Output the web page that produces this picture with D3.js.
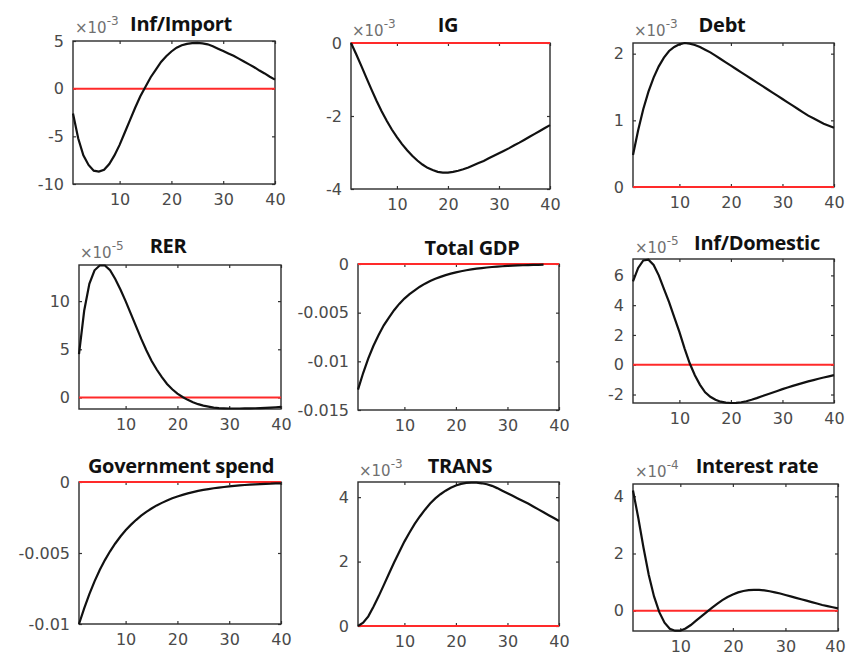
<!DOCTYPE html>
<html>
<head>
<meta charset="utf-8">
<script src="https://cdnjs.cloudflare.com/ajax/libs/d3/7.8.5/d3.min.js"></script>
<style>
  body { margin: 0; background: #fff; }
  svg { display: block; }
  .tick text { font-family: "DejaVu Sans", sans-serif; font-size: 16px; fill: #4a4a4a; }
</style>
</head>
<body>
<script>
// impulse responses, periods 1..40
var periods = d3.range(1, 41);
var xTicks = [10, 20, 30, 40];

var titles = ['Inf/Import', 'IG', 'Debt', 'RER', 'Total GDP', 'Inf/Domestic', 'Government spend', 'TRANS', 'Interest rate'];
var exponents = [-3, -3, -3, -5, null, -5, null, -3, -4];

// values in units of the panel exponent (x10^-3 etc.)
var infImport = [-2.6, -5.2, -7.0, -8.0, -8.6, -8.7, -8.5, -7.9, -7.0, -5.9, -4.6, -3.3, -2.0, -0.8, 0.2, 1.2, 2.0, 2.8, 3.4, 3.9,
  4.3, 4.55, 4.7, 4.78, 4.8, 4.75, 4.65, 4.45, 4.2, 3.95, 3.7, 3.45, 3.15, 2.85, 2.55, 2.25, 1.9, 1.6, 1.25, 0.95];
var ig = [0, -0.3, -0.62, -0.95, -1.27, -1.58, -1.87, -2.13, -2.37, -2.58, -2.77, -2.94, -3.09, -3.22, -3.33, -3.42, -3.48, -3.53, -3.55, -3.55,
  -3.53, -3.5, -3.46, -3.41, -3.35, -3.29, -3.23, -3.16, -3.09, -3.02, -2.95, -2.88, -2.8, -2.73, -2.65, -2.57, -2.49, -2.41, -2.33, -2.25];
var debt = [0.48, 0.85, 1.17, 1.43, 1.64, 1.81, 1.94, 2.04, 2.1, 2.14, 2.16, 2.15, 2.13, 2.1, 2.06, 2.02, 1.97, 1.92, 1.87, 1.82,
  1.77, 1.72, 1.67, 1.62, 1.57, 1.52, 1.47, 1.42, 1.37, 1.32, 1.27, 1.22, 1.17, 1.12, 1.07, 1.03, 0.99, 0.95, 0.92, 0.89];
var rer = [4.5, 9.0, 11.8, 13.2, 13.7, 13.7, 13.2, 12.3, 11.2, 10.0, 8.7, 7.4, 6.1, 4.9, 3.8, 2.9, 2.1, 1.4, 0.85, 0.4,
  0.05, -0.25, -0.5, -0.7, -0.85, -0.95, -1.05, -1.1, -1.13, -1.15, -1.15, -1.15, -1.14, -1.13, -1.12, -1.1, -1.08, -1.05, -1.02, -0.98];
var totalGdp = [-0.0129, -0.0112, -0.0097, -0.0084, -0.0073, -0.0063, -0.0055, -0.00475, -0.0041, -0.00355, -0.0031, -0.0027, -0.00233,
  -0.00202, -0.00175, -0.00152, -0.00132, -0.00114, -0.00099, -0.00086, -0.00074, -0.00064, -0.00056, -0.00048, -0.00042, -0.00036,
  -0.00031, -0.00027, -0.00023, -0.0002, -0.00017, -0.00015, -0.00013, -0.00011, -0.0001, -0.00008, -0.00007];
var infDomestic = [5.6, 6.5, 7.0, 7.05, 6.7, 6.0, 5.1, 4.2, 3.2, 2.2, 1.1, 0.1, -0.7, -1.35, -1.85, -2.15, -2.35, -2.48, -2.55, -2.57,
  -2.56, -2.52, -2.45, -2.35, -2.24, -2.12, -2.0, -1.88, -1.76, -1.64, -1.53, -1.42, -1.32, -1.22, -1.12, -1.03, -0.94, -0.86, -0.78, -0.7];
var govSpend = [-0.01, -0.0089, -0.0079, -0.007, -0.0062, -0.0055, -0.00488, -0.00433, -0.00384, -0.0034, -0.00302, -0.00268, -0.00237,
  -0.0021, -0.00187, -0.00165, -0.00147, -0.0013, -0.00115, -0.00102, -0.00091, -0.0008, -0.00071, -0.00063, -0.00056, -0.0005,
  -0.00044, -0.00039, -0.00035, -0.00031, -0.00027, -0.00024, -0.00021, -0.00019, -0.00017, -0.00015, -0.00013, -0.00012, -0.0001, -0.00009];
var trans = [0, 0.1, 0.3, 0.6, 0.92, 1.27, 1.62, 1.97, 2.3, 2.62, 2.9, 3.17, 3.4, 3.61, 3.8, 3.96, 4.09, 4.2, 4.29, 4.36,
  4.41, 4.44, 4.45, 4.45, 4.43, 4.4, 4.35, 4.28, 4.2, 4.12, 4.04, 3.96, 3.88, 3.8, 3.71, 3.62, 3.53, 3.44, 3.35, 3.26];
var interestRate = [4.2, 3.25, 2.2, 1.25, 0.5, -0.05, -0.42, -0.63, -0.7, -0.7, -0.62, -0.5, -0.35, -0.2, -0.05, 0.1, 0.24, 0.37, 0.48, 0.57,
  0.64, 0.69, 0.72, 0.73, 0.73, 0.71, 0.68, 0.64, 0.6, 0.55, 0.5, 0.45, 0.4, 0.35, 0.3, 0.25, 0.2, 0.16, 0.12, 0.08];

var series = [infImport, ig, debt, rer, totalGdp, infDomestic, govSpend, trans, interestRate];
var yTicks = [[-10, -5, 0, 5], [-4, -2, 0], [0, 1, 2], [0, 5, 10], [-0.015, -0.01, -0.005, 0], [-2, 0, 2, 4, 6], [-0.01, -0.005, 0], [0, 2, 4], [0, 2, 4]];
var yLimits = [[-10, 5], [-4, 0], [0, 2.16], [-1.2, 13.75], [-0.015, 0], [-2.57, 7.1], [-0.01, 0], [0, 4.47], [-0.71, 4.43]];

// layout: axes boxes, title anchor, exponent anchor
var boxes = [
  {x: 73, y: 41, w: 202, h: 143}, {x: 351, y: 43, w: 199, h: 146}, {x: 633, y: 43, w: 201, h: 144},
  {x: 79, y: 265, w: 202, h: 144}, {x: 358, y: 264, w: 201, h: 146}, {x: 633, y: 259, w: 201, h: 144},
  {x: 79, y: 482, w: 202, h: 142}, {x: 358, y: 482, w: 201, h: 144}, {x: 633, y: 484, w: 205, h: 147}
];
var titlePos = [[181, 31], [448, 32], [722, 32], [168, 253], [472, 255], [757, 250], [181, 473], [460, 473], [757, 473]];
var expPos = [[75, 33], [352, 36], [634, 36], [80, 258], null, [635, 253], null, [359, 476], [635, 477]];

var svg = d3.select('body').append('svg').attr('width', 847).attr('height', 655);

function fmt(d) { return String(d); }

boxes.forEach(function(b, i) {
  var x = d3.scaleLinear().domain([1, 40]).range([b.x, b.x + b.w]);
  var y = d3.scaleLinear().domain(yLimits[i]).range([b.y + b.h, b.y]);
  var g = svg.append('g');

  var ax = [
    d3.axisBottom(x).tickValues(xTicks).tickSize(-3).tickPadding(10).tickFormat(fmt),
    d3.axisTop(x).tickValues(xTicks).tickSize(-3).tickFormat(''),
    d3.axisLeft(y).tickValues(yTicks[i]).tickSize(-3).tickPadding(9).tickFormat(fmt),
    d3.axisRight(y).tickValues(yTicks[i]).tickSize(-3).tickFormat('')
  ];
  var tr = ['translate(0,' + (b.y + b.h) + ')', 'translate(0,' + b.y + ')', 'translate(' + b.x + ',0)', 'translate(' + (b.x + b.w) + ',0)'];
  ax.forEach(function(a, k) {
    var ga = g.append('g').attr('transform', tr[k]).call(a);
    ga.select('.domain').remove();
    ga.selectAll('.tick line').attr('stroke', '#333').attr('stroke-width', 1.2);
    // keep the right-most label of the last column inside the page
    if (k === 0 && b.x + b.w > 836) ga.selectAll('.tick text').filter(function(d) { return d === 40; }).attr('dx', -3);
  });

  g.append('rect').attr('x', b.x).attr('y', b.y).attr('width', b.w).attr('height', b.h)
    .attr('fill', 'none').attr('stroke', '#2b2b2b').attr('stroke-width', 1.4);

  g.append('line').attr('x1', x(1)).attr('x2', x(40)).attr('y1', y(0)).attr('y2', y(0))
    .attr('stroke', '#ff2a2a').attr('stroke-width', 2);

  var line = d3.line().x(function(d, j) { return x(periods[j]); }).y(function(d) { return y(d); });
  g.append('path').datum(series[i]).attr('d', line)
    .attr('fill', 'none').attr('stroke', '#111').attr('stroke-width', 2.2);

  g.append('text').attr('x', titlePos[i][0]).attr('y', titlePos[i][1]).attr('text-anchor', 'middle')
    .style('font-family', '"Open Sans", sans-serif').style('font-weight', 'bold').style('font-size', '20px')
    .style('letter-spacing', '-0.3px').attr('fill', '#111').text(titles[i]);

  if (exponents[i] !== null) {
    var t = g.append('text').attr('x', expPos[i][0]).attr('y', expPos[i][1])
      .style('font-family', '"DejaVu Sans", sans-serif').attr('fill', '#707070');
    t.append('tspan').style('font-size', '15px').text('\u00d710');
    t.append('tspan').style('font-size', '12px').attr('dy', -8).text(String(exponents[i]));
  }
});
</script>
</body>
</html>
